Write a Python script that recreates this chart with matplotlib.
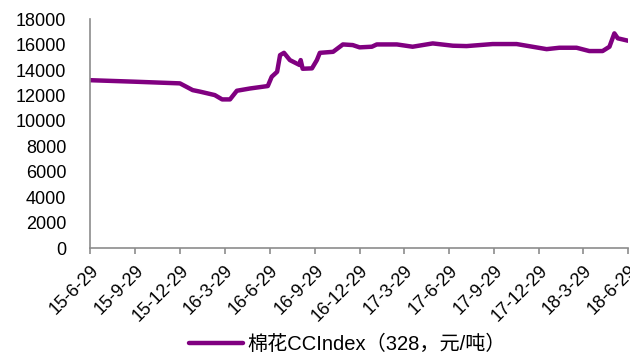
import matplotlib
matplotlib.use('Agg')
import matplotlib.pyplot as plt
import pandas as pd

plt.rcParams['font.family'] = ['Liberation Sans', 'Noto Sans CJK SC']

# cotton CCIndex 328, yuan/ton
dates = ['2015-06-29', '2015-09-29', '2015-12-29', '2016-01-24', '2016-02-08',
         '2016-03-09', '2016-03-24', '2016-04-09', '2016-04-23', '2016-05-20',
         '2016-06-25', '2016-07-03', '2016-07-14', '2016-07-20', '2016-07-28',
         '2016-08-09', '2016-08-29', '2016-08-31', '2016-09-04', '2016-09-23',
         '2016-10-03', '2016-10-09', '2016-11-05', '2016-11-25', '2016-12-15',
         '2016-12-29', '2017-01-23', '2017-02-02', '2017-03-15', '2017-04-16',
         '2017-05-27', '2017-07-07', '2017-08-04', '2017-09-26', '2017-11-14',
         '2017-12-16', '2018-01-14', '2018-02-09', '2018-03-16', '2018-04-11',
         '2018-05-08', '2018-05-22', '2018-06-01', '2018-06-08', '2018-06-29']
values = [13200, 13080, 12950, 12420, 12300,
          12030, 11690, 11690, 12370, 12550,
          12740, 13470, 13860, 15170, 15350,
          14780, 14390, 14780, 14100, 14130,
          14780, 15350, 15430, 16010, 15960,
          15780, 15830, 16010, 16010, 15830,
          16090, 15910, 15880, 16040, 16040,
          15830, 15640, 15750, 15750, 15490,
          15490, 15830, 16880, 16490, 16300]
tick_dates = ['2015-06-29', '2015-09-29', '2015-12-29', '2016-03-29', '2016-06-29',
              '2016-09-29', '2016-12-29', '2017-03-29', '2017-06-29', '2017-09-29',
              '2017-12-29', '2018-03-29', '2018-06-29']
tick_labels = ['15-6-29', '15-9-29', '15-12-29', '16-3-29', '16-6-29', '16-9-29',
               '16-12-29', '17-3-29', '17-6-29', '17-9-29', '17-12-29', '18-3-29',
               '18-6-29']
label = '棉花CCIndex（328，元/吨）'

x = pd.to_datetime(dates)
ticks = pd.to_datetime(tick_dates)

fig = plt.figure(figsize=(6.3, 3.54), dpi=100)
ax = fig.add_axes([0.143, 0.299, 0.854, 0.647])
ax.plot(x, values, color='#800080', lw=3.2, label=label, solid_capstyle='round')

ax.set_xlim(ticks[0], ticks[-1])
ax.set_ylim(0, 18000)
ax.set_yticks(range(0, 18001, 2000))
ax.set_xticks(ticks)
ax.set_xticklabels(tick_labels, rotation=45, ha='right', rotation_mode='anchor')

for s in ['top', 'right']:
    ax.spines[s].set_visible(False)
for s in ['left', 'bottom']:
    ax.spines[s].set_color('#8c8c8c')
    ax.spines[s].set_linewidth(1.2)
ax.tick_params(axis='y', length=0, labelsize=13, pad=17)
ax.tick_params(axis='x', length=4, color='#8c8c8c', width=1.2, labelsize=13, pad=6)

ax.legend(loc='center', bbox_to_anchor=(0.478, -0.42), frameon=False,
          fontsize=14.5, handlelength=2.7, handletextpad=0.2)

fig.savefig('out.png', dpi=100)
